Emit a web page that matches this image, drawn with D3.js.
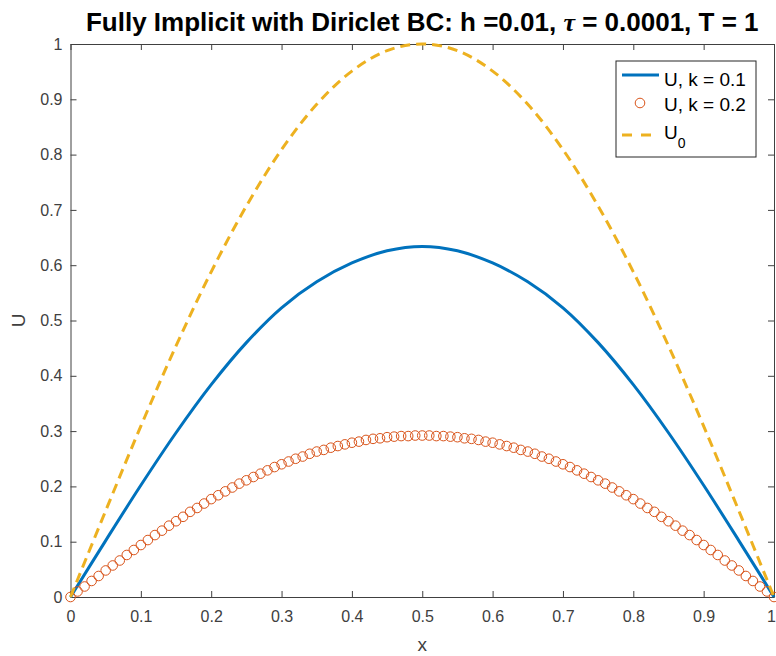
<!DOCTYPE html>
<html>
<head>
<meta charset="utf-8">
<script src="https://cdn.jsdelivr.net/npm/d3@7"></script>
<style>
body { margin: 0; background: #fff; }
svg { display: block; font-family: "Liberation Sans", Arial, sans-serif; }
</style>
</head>
<body>
<svg id="chart" width="776" height="656"></svg>
<script>
// Grille fine (h = 0.01) pour les marqueurs, grille grossière pour les courbes
const xFine = d3.range(0, 101).map(i => i / 100);
const xCoarse = [0, 0.05, 0.1, 0.15, 0.2, 0.25, 0.3, 0.35, 0.4, 0.45, 0.5,
                 0.55, 0.6, 0.65, 0.7, 0.75, 0.8, 0.85, 0.9, 0.95, 1];

// Condition initiale U0
const u0 = [0, 0.156, 0.309, 0.454, 0.588, 0.707, 0.809, 0.891, 0.951, 0.988, 1,
            0.988, 0.951, 0.891, 0.809, 0.707, 0.588, 0.454, 0.309, 0.156, 0];

// U, k = 0.1
const uK1 = [0, 0.102, 0.202, 0.297, 0.384, 0.460, 0.523, 0.570, 0.604, 0.626, 0.634,
             0.626, 0.604, 0.570, 0.523, 0.460, 0.384, 0.297, 0.202, 0.102, 0];

// U, k = 0.2 (un point tous les 0.01)
const uK2 = [0, 0.010, 0.019, 0.029, 0.038, 0.048, 0.057, 0.066, 0.076, 0.085,
             0.094, 0.103, 0.112, 0.120, 0.129, 0.137, 0.145, 0.154, 0.161, 0.169,
             0.177, 0.184, 0.191, 0.198, 0.205, 0.211, 0.217, 0.223, 0.229, 0.235,
             0.240, 0.245, 0.250, 0.254, 0.259, 0.263, 0.266, 0.270, 0.273, 0.276,
             0.279, 0.281, 0.284, 0.286, 0.287, 0.289, 0.290, 0.291, 0.291, 0.292,
             0.292,
             0.292, 0.291, 0.291, 0.290, 0.289, 0.287, 0.286, 0.284, 0.281, 0.279,
             0.276, 0.273, 0.270, 0.266, 0.263, 0.259, 0.254, 0.250, 0.245, 0.240,
             0.235, 0.229, 0.223, 0.217, 0.211, 0.205, 0.198, 0.191, 0.184, 0.177,
             0.169, 0.161, 0.154, 0.145, 0.137, 0.129, 0.120, 0.112, 0.103, 0.094,
             0.085, 0.076, 0.066, 0.057, 0.048, 0.038, 0.029, 0.019, 0.010, 0];

const xTicks = [0, 0.1, 0.2, 0.3, 0.4, 0.5, 0.6, 0.7, 0.8, 0.9, 1];
const yTicks = [0, 0.1, 0.2, 0.3, 0.4, 0.5, 0.6, 0.7, 0.8, 0.9, 1];

const blue = "#0072BD", orange = "#D95319", yellow = "#EDB120", axisCol = "#404040";

const svg = d3.select("#chart");
const mL = 70.5, mR = 774, mT = 44, mB = 597;

const x = d3.scaleLinear().domain([0, 1]).range([mL, mR]);
const y = d3.scaleLinear().domain([0, 1]).range([mB, mT]);

// Axes (boîte façon MATLAB, graduations vers l'intérieur)
const fmt = d => d3.format("~g")(d);
const gx = svg.append("g").attr("transform", `translate(0,${mB})`)
    .call(d3.axisBottom(x).tickValues(xTicks).tickFormat(fmt).tickSizeInner(-6).tickSizeOuter(0).tickPadding(14));
const gy = svg.append("g").attr("transform", `translate(${mL},0)`)
    .call(d3.axisLeft(y).tickValues(yTicks).tickFormat(fmt).tickSizeInner(-6).tickSizeOuter(0).tickPadding(8));
const gt = svg.append("g").attr("transform", `translate(0,${mT})`)
    .call(d3.axisTop(x).tickValues(xTicks).tickFormat("").tickSizeInner(-6).tickSizeOuter(0));
const gr = svg.append("g").attr("transform", `translate(${mR},0)`)
    .call(d3.axisRight(y).tickValues(yTicks).tickFormat("").tickSizeInner(-6).tickSizeOuter(0));

[gx, gy, gt, gr].forEach(g => {
  g.selectAll("path.domain").attr("stroke", axisCol);
  g.selectAll(".tick line").attr("stroke", axisCol);
  g.selectAll(".tick text").attr("fill", axisCol)
    .style("font-family", '"Liberation Sans", Arial, sans-serif').style("font-size", "16px");
});
// le dernier libellé "1" reste dans la fenêtre
gx.selectAll(".tick text").filter(d => d === 1).attr("x", -3);

// Courbes
const line = (xs) => d3.line()
    .x((d, i) => x(xs[i]))
    .y(d => y(d))
    .curve(d3.curveCatmullRom);

svg.append("path").datum(uK1)
    .attr("d", line(xCoarse))
    .attr("fill", "none").attr("stroke", blue).attr("stroke-width", 3);

svg.append("g").selectAll("circle")
    .data(uK2).enter().append("circle")
    .attr("cx", (d, i) => x(xFine[i]))
    .attr("cy", d => y(d))
    .attr("r", 4.8)
    .attr("fill", "none").attr("stroke", orange).attr("stroke-width", 1);

svg.append("path").datum(u0)
    .attr("d", line(xCoarse))
    .attr("fill", "none").attr("stroke", yellow).attr("stroke-width", 3)
    .attr("stroke-dasharray", "10,6");

// Titre
const title = svg.append("text")
    .attr("x", (mL + mR) / 2).attr("y", 31)
    .attr("text-anchor", "middle")
    .style("font-size", "26px").style("font-weight", "bold").attr("fill", "#000");
title.append("tspan").text("Fully Implicit with Diriclet BC: h =0.01, ");
title.append("tspan").style("font-style", "italic").style("font-family", '"Liberation Serif", serif').text("τ");
title.append("tspan").text(" = 0.0001, T = 1");

// Libellés des axes
svg.append("text")
    .attr("x", (mL + mR) / 2).attr("y", 651)
    .attr("text-anchor", "middle")
    .style("font-size", "19px").attr("fill", axisCol)
    .text("x");
svg.append("text")
    .attr("transform", `translate(25,${(mT + mB) / 2}) rotate(-90)`)
    .attr("text-anchor", "middle")
    .style("font-size", "19px").attr("fill", axisCol)
    .text("U");

// Légende
const lg = svg.append("g");
lg.append("rect")
    .attr("x", 616).attr("y", 61).attr("width", 140).attr("height", 96)
    .attr("fill", "#fff").attr("stroke", "#262626").attr("stroke-width", 1);

lg.append("line").attr("x1", 622).attr("x2", 659).attr("y1", 75).attr("y2", 75)
    .attr("stroke", blue).attr("stroke-width", 3);
lg.append("circle").attr("cx", 640).attr("cy", 103).attr("r", 4.8)
    .attr("fill", "none").attr("stroke", orange).attr("stroke-width", 1);
lg.append("line").attr("x1", 622).attr("x2", 659).attr("y1", 135).attr("y2", 135)
    .attr("stroke", yellow).attr("stroke-width", 3).attr("stroke-dasharray", "10,9");

const legendLabels = ["U, k = 0.1", "U, k = 0.2"];
const legendBase = [86, 111];
legendLabels.forEach((t, i) => {
  lg.append("text").attr("x", 664).attr("y", legendBase[i])
    .style("font-size", "19px").attr("fill", "#000").text(t);
});
const l3 = lg.append("text").attr("x", 664).attr("y", 139)
    .style("font-size", "19px").attr("fill", "#000");
l3.append("tspan").text("U");
l3.append("tspan").attr("dy", 9).style("font-size", "14px").text("0");
</script>
</body>
</html>
